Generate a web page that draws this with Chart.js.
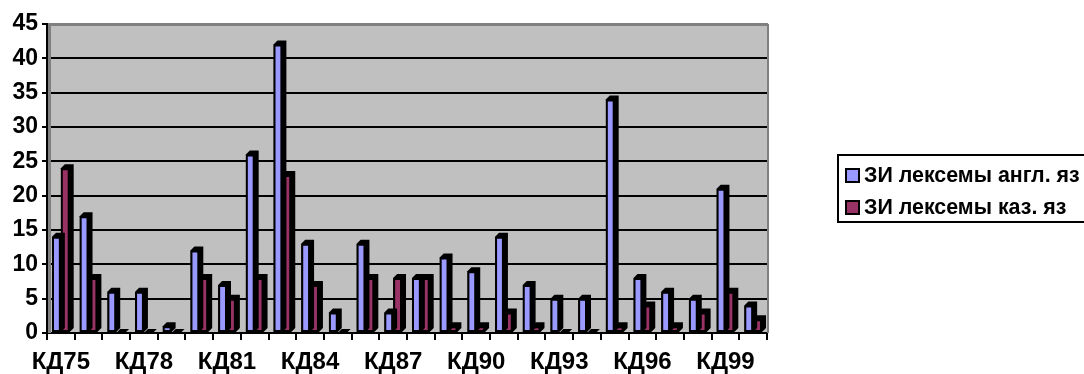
<!DOCTYPE html>
<html>
<head>
<meta charset="utf-8">
<script src="https://cdn.jsdelivr.net/npm/chart.js@4/dist/chart.umd.min.js"></script>
<style>
  html, body { margin: 0; padding: 0; background: #ffffff; }
  #wrap { width: 1084px; height: 374px; position: relative; }
</style>
</head>
<body>
<div id="wrap"><canvas id="chart" width="1084" height="374"></canvas></div>
<script>
// Categories and the two series of counts
const categories = ['КД75','КД76','КД77','КД78','КД79','КД80','КД81','КД82','КД83','КД84','КД85','КД86','КД87',
                    'КД88','КД89','КД90','КД91','КД92','КД93','КД94','КД95','КД96','КД97','КД98','КД99','КД100'];
const englishCounts = [14,17,6,6,1,12,7,26,42,13,3,13,3,8,11,9,14,7,5,5,34,8,6,5,21,4];
const kazakhCounts  = [24,8,0,0,0,8,5,8,23,7,0,8,8,8,1,1,3,1,0,0,1,4,1,3,6,2];
const seriesNames = ['ЗИ лексемы англ. яз', 'ЗИ лексемы каз. яз'];
const yTickValues = [0,5,10,15,20,25,30,35,40,45];

const FONT = "'Liberation Sans', Arial, sans-serif";
const DEPTH = 4;

// Grey wall behind the bars
const wallPlugin = {
  id: 'wall',
  beforeDraw(chart) {
    const { ctx, chartArea: a } = chart;
    ctx.save();
    ctx.fillStyle = '#C0C0C0';
    ctx.fillRect(a.left, a.top, a.right - a.left, a.bottom - a.top);
    ctx.restore();
  },
  beforeDatasetsDraw(chart) {
    const { ctx, chartArea: a } = chart;
    ctx.save();
    ctx.strokeStyle = '#808080';
    ctx.lineWidth = 3;
    ctx.beginPath();
    ctx.moveTo(a.left + 2.5, a.bottom);
    ctx.lineTo(a.left + 2.5, a.top + 0.5);
    ctx.lineTo(a.right + 1, a.top + 0.5);
    ctx.stroke();
    ctx.lineWidth = 2;
    ctx.beginPath();
    ctx.moveTo(a.right + 1, a.top);
    ctx.lineTo(a.right + 1, a.bottom);
    ctx.stroke();
    ctx.restore();
  }
};

// Dark top and side faces that give each bar its depth
const depthPlugin = {
  id: 'barDepth',
  beforeDatasetDraw(chart, args) {
    const meta = args.meta;
    const ctx = chart.ctx;
    ctx.save();
    ctx.fillStyle = '#000000';
    meta.data.forEach(bar => {
      const p = bar.getProps(['x', 'y', 'base', 'width'], true);
      const l = p.x - p.width / 2, r = p.x + p.width / 2;
      ctx.beginPath();
      ctx.moveTo(l, p.y);
      ctx.lineTo(l + DEPTH, p.y - DEPTH);
      ctx.lineTo(r + DEPTH, p.y - DEPTH);
      ctx.lineTo(r + DEPTH, p.base - DEPTH);
      ctx.lineTo(r, p.base);
      ctx.lineTo(l, p.base);
      ctx.closePath();
      ctx.fill();
    });
    ctx.restore();
  }
};

// Framed legend to the right of the plot
const boxedLegend = {
  id: 'boxedLegend',
  afterDraw(chart) {
    const ctx = chart.ctx;
    const left = 838, top = 155, width = 260, height = 67;
    ctx.save();
    ctx.strokeStyle = '#000000';
    ctx.lineWidth = 2;
    ctx.strokeRect(left, top, width, height);
    ctx.font = 'bold 21.4px ' + FONT;
    ctx.textBaseline = 'middle';
    ctx.textAlign = 'left';
    chart.data.datasets.forEach((ds, i) => {
      const cy = 175.5 + i * 32;
      ctx.fillStyle = ds.backgroundColor;
      ctx.fillRect(846, cy - 6.5, 13, 13);
      ctx.lineWidth = 2;
      ctx.strokeStyle = '#000000';
      ctx.strokeRect(846, cy - 6.5, 13, 13);
      ctx.fillStyle = '#000000';
      ctx.fillText(ds.label, 864, cy + 1);
    });
    ctx.restore();
  }
};

new Chart(document.getElementById('chart'), {
  type: 'bar',
  data: {
    labels: categories,
    datasets: [
      { label: seriesNames[0], data: englishCounts, backgroundColor: '#9999FF', borderColor: '#000000', borderWidth: 2, borderSkipped: false },
      { label: seriesNames[1], data: kazakhCounts,  backgroundColor: '#993366', borderColor: '#000000', borderWidth: 2, borderSkipped: false }
    ]
  },
  options: {
    responsive: false,
    animation: false,
    devicePixelRatio: 1,
    layout: { padding: { left: 0, top: 24, right: 317, bottom: 0 } },
    datasets: { bar: { categoryPercentage: 0.64, barPercentage: 1.0 } },
    plugins: { legend: { display: false }, tooltip: { enabled: false } },
    scales: {
      x: {
        offset: true,
        afterFit(scale) { scale.height = 41; },
        grid: { display: true, drawOnChartArea: false, drawTicks: true, tickLength: 7, color: '#000000', lineWidth: 2, offset: true },
        border: { display: true, color: '#000000', width: 2 },
        ticks: {
          autoSkip: false, maxRotation: 0, minRotation: 0, padding: 8,
          color: '#000000', font: { family: FONT, size: 24, weight: 'bold' },
          callback: (v, i) => (i % 3 === 0 ? categories[i] : '')
        }
      },
      y: {
        min: yTickValues[0],
        max: yTickValues[yTickValues.length - 1],
        afterFit(scale) { scale.width = 47; },
        afterBuildTicks(scale) { scale.ticks = yTickValues.map(v => ({ value: v })); },
        grid: {
          color: ctx => (ctx.tick && ctx.tick.value === 45 ? 'rgba(0,0,0,0)' : '#000000'),
          lineWidth: 2, drawTicks: true, tickLength: 5,
          tickColor: '#000000'
        },
        border: { display: true, color: '#000000', width: 2 },
        ticks: { padding: 4, color: '#000000', font: { family: FONT, size: 23, weight: 'bold' } }
      }
    }
  },
  plugins: [wallPlugin, depthPlugin, boxedLegend]
});
</script>
</body>
</html>
